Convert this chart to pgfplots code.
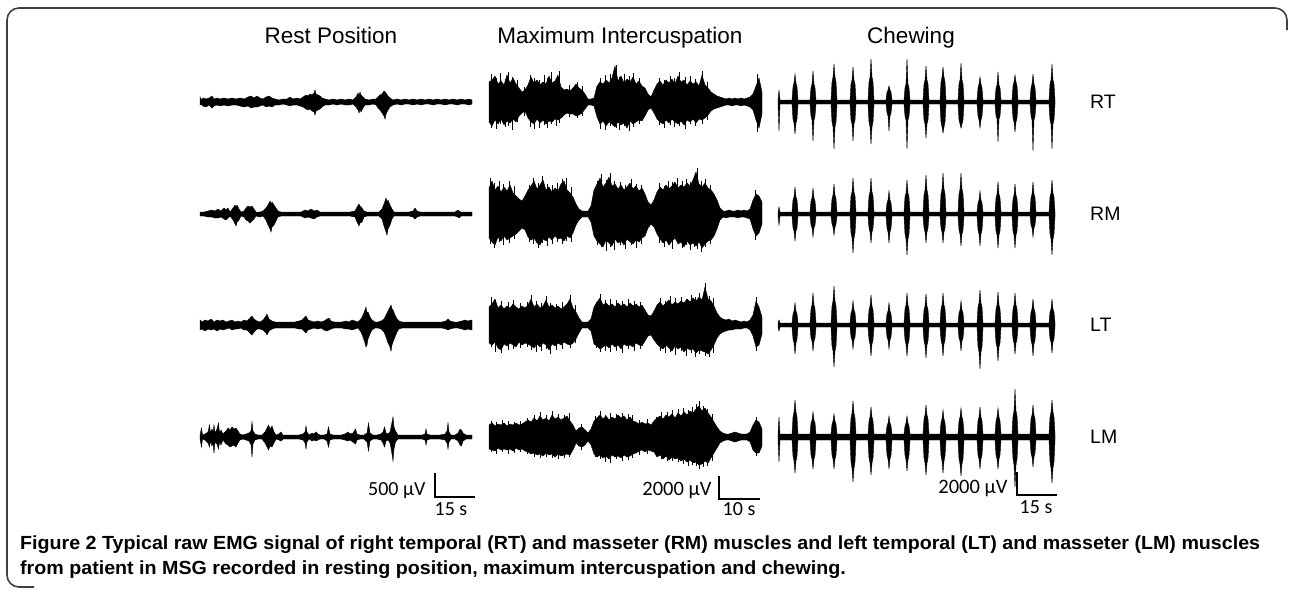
\documentclass[border=0pt]{standalone}
\usepackage{fontspec}
\usepackage{graphicx}
\usepackage{pgfplots}
\usepackage{pgfplotstable}
\pgfplotsset{compat=1.18}
\setmainfont{Liberation Sans}
\newfontfamily\barfont{Carlito}

% one small hidden axis per trace, 1 unit = 1pt in both directions
\pgfplotsset{
  emg/.style={hide axis, scale only axis, clip=false, anchor=west,
    height=100pt, xmin=0, ymin=-50, ymax=50},
  emgfill/.style={fill=black, draw=black, line width=0.4pt},
  spk/.style={ycomb, black, line width=0.7pt, mark=none},
  sbar/.style={black, line width=1.5pt},
}

% ---------------- Rest position (x hi lo) ----------------
\pgfplotstableread[row sep=\\]{
x hi lo\\
0 5 -3\\ 1 2 -2\\ 3 4 -4\\ 6 3 -5\\ 9 4 -3\\ 12 6 -6\\ 14 3 -4\\ 17 4 -3\\ 20 3 -4\\ 24 4 -3\\
28 3 -4\\ 32 4 -3\\ 36 3 -3\\ 40 4 -4\\ 44 3 -5\\ 48 5 -4\\ 51 6 -6\\ 54 4 -5\\ 57 6 -5\\ 60 4 -4\\
63 3 -3\\ 66 5 -5\\ 69 6 -4\\ 72 4 -5\\ 75 3 -3\\ 79 2 -3\\ 83 3 -2\\ 87 3 -3\\ 90 5 -4\\ 93 3 -3\\
97 4 -3\\ 100 3 -4\\ 103 5 -5\\ 106 7 -7\\ 108 6 -8\\ 110 8 -7\\ 112 7 -9\\ 114 9 -10\\ 115 12 -13\\ 116 8 -9\\
118 7 -8\\ 120 6 -7\\ 122 4 -5\\ 125 3 -3\\ 129 2 -3\\ 133 3 -2\\ 137 2 -3\\ 141 3 -2\\ 145 2 -3\\ 149 3 -3\\
153 2 -2\\ 156 5 -5\\ 158 9 -8\\ 159 6 -11\\ 160 10 -7\\ 161 7 -10\\ 163 5 -6\\ 165 3 -3\\ 169 2 -3\\ 173 3 -2\\
176 3 -3\\ 178 5 -6\\ 180 7 -8\\ 182 8 -11\\ 184 11 -14\\ 185 10 -17\\ 186 9 -12\\ 188 6 -8\\ 190 4 -5\\ 193 2 -3\\
197 3 -2\\ 201 2 -3\\ 205 3 -2\\ 209 2 -2\\ 213 3 -3\\ 217 2 -2\\ 221 3 -3\\ 225 2 -2\\ 229 3 -2\\ 233 2 -3\\
237 3 -2\\ 241 2 -2\\ 245 3 -3\\ 249 2 -2\\ 253 3 -2\\ 257 2 -3\\ 261 3 -2\\ 265 2 -2\\ 269 3 -3\\ 272 2 -2\\
}\restRT

\pgfplotstableread[row sep=\\]{
x hi lo\\
0 2 -2\\ 4 2 -2\\ 8 3 -3\\ 12 4 -3\\ 15 3 -4\\ 18 5 -4\\ 21 3 -3\\ 24 6 -5\\ 26 4 -6\\ 28 6 -4\\
30 2 -2\\ 33 6 -6\\ 35 9 -10\\ 36 7 -12\\ 37 9 -8\\ 39 5 -6\\ 41 2 -2\\ 44 3 -3\\ 46 6 -6\\ 48 8 -7\\
50 7 -9\\ 52 8 -7\\ 54 5 -5\\ 56 2 -2\\ 60 2 -3\\ 63 3 -2\\ 66 6 -6\\ 68 9 -11\\ 70 13 -15\\ 71 10 -18\\
72 12 -13\\ 74 9 -11\\ 76 6 -7\\ 78 3 -3\\ 81 2 -2\\ 85 2 -2\\ 89 2 -2\\ 93 2 -2\\ 97 2 -2\\ 101 2 -2\\
105 4 -4\\ 108 3 -3\\ 111 5 -4\\ 114 3 -5\\ 117 4 -3\\ 120 2 -2\\ 125 2 -2\\ 130 2 -2\\ 135 2 -2\\ 140 2 -2\\
145 2 -2\\ 150 2 -2\\ 155 3 -3\\ 157 7 -8\\ 159 10 -12\\ 160 8 -9\\ 162 6 -8\\ 164 3 -3\\ 167 2 -2\\ 171 2 -2\\
175 2 -2\\ 179 2 -2\\ 182 5 -5\\ 184 10 -12\\ 186 16 -18\\ 187 12 -21\\ 188 14 -15\\ 190 9 -11\\ 192 5 -5\\ 194 2 -2\\
199 2 -2\\ 204 2 -2\\ 209 2 -2\\ 213 3 -3\\ 215 6 -5\\ 217 3 -3\\ 220 2 -2\\ 225 2 -2\\ 230 2 -2\\ 235 2 -2\\
240 2 -2\\ 245 2 -2\\ 250 2 -2\\ 255 2 -2\\ 258 4 -3\\ 259 3 -4\\ 261 2 -2\\ 266 2 -2\\ 272 2 -2\\
}\restRM

\pgfplotstableread[row sep=\\]{
x hi lo\\
0 5 -5\\ 2 3 -4\\ 5 5 -6\\ 8 4 -4\\ 11 6 -5\\ 14 3 -4\\ 17 5 -6\\ 20 4 -4\\ 23 5 -5\\ 26 3 -4\\
29 4 -3\\ 32 5 -5\\ 35 3 -4\\ 38 4 -4\\ 41 3 -3\\ 44 5 -5\\ 47 4 -5\\ 50 7 -8\\ 52 9 -10\\ 54 6 -7\\
57 4 -4\\ 60 3 -4\\ 63 5 -5\\ 66 9 -8\\ 67 11 -10\\ 69 6 -6\\ 72 4 -4\\ 75 3 -3\\ 79 3 -3\\ 83 3 -3\\
87 3 -3\\ 91 3 -3\\ 95 3 -3\\ 99 4 -4\\ 102 5 -4\\ 104 7 -6\\ 106 9 -8\\ 108 5 -5\\ 111 4 -4\\ 114 3 -3\\
118 4 -4\\ 121 3 -3\\ 124 4 -5\\ 127 6 -6\\ 129 7 -5\\ 131 4 -4\\ 134 3 -3\\ 138 3 -3\\ 142 3 -3\\ 146 4 -4\\
149 3 -4\\ 152 5 -5\\ 155 4 -4\\ 158 3 -3\\ 161 6 -7\\ 163 10 -12\\ 165 15 -18\\ 166 18 -22\\ 167 12 -20\\ 168 13 -14\\
170 8 -9\\ 172 5 -5\\ 175 3 -3\\ 178 3 -3\\ 181 4 -4\\ 184 6 -7\\ 186 10 -12\\ 188 14 -18\\ 190 18 -22\\ 191 20 -26\\
192 16 -20\\ 193 15 -17\\ 195 10 -12\\ 197 6 -7\\ 199 4 -4\\ 202 3 -3\\ 206 3 -3\\ 210 3 -3\\ 214 3 -3\\ 218 3 -3\\
222 3 -3\\ 226 3 -3\\ 230 3 -3\\ 234 3 -3\\ 238 3 -3\\ 242 3 -3\\ 246 4 -4\\ 248 6 -5\\ 250 4 -4\\ 254 3 -3\\
258 3 -3\\ 262 4 -4\\ 265 5 -5\\ 268 4 -4\\ 272 5 -5\\
}\restLT

\pgfplotstableread[row sep=\\]{
x hi lo\\
0 2 -2\\ 1.5 9 -10\\ 2.5 2 -2\\ 5 3 -3\\ 8 5 -6\\ 9.5 12 -10\\ 10.5 4 -4\\ 12 8 -9\\ 13 5 -6\\ 14 12 -16\\
15 4 -5\\ 17 8 -7\\ 18.5 14 -12\\ 19.5 4 -5\\ 21 7 -8\\ 23 3 -3\\ 26 6 -7\\ 28 9 -8\\ 30 7 -10\\ 32 10 -9\\
34 8 -8\\ 36 9 -10\\ 38 6 -6\\ 40 3 -3\\ 43 2 -2\\ 46 3 -3\\ 49 4 -4\\ 51 6 -8\\ 52 15 -20\\ 53 6 -7\\
55 3 -3\\ 58 2 -2\\ 62 2 -2\\ 65 5 -6\\ 67 9 -10\\ 68.5 12 -13\\ 70 8 -9\\ 72 11 -10\\ 74 5 -6\\ 76 2 -2\\
79 3 -3\\ 81 5 -4\\ 83 2 -2\\ 87 2 -2\\ 91 2 -2\\ 95 2 -2\\ 99 2 -2\\ 103 3 -3\\ 105 5 -6\\ 106 11 -12\\
107 5 -5\\ 109 2 -2\\ 112 4 -4\\ 114 3 -3\\ 116 5 -4\\ 118 3 -3\\ 120 2 -2\\ 124 2 -2\\ 127 3 -4\\ 128.5 10 -10\\
130 3 -3\\ 133 2 -2\\ 137 2 -2\\ 141 2 -2\\ 145 3 -3\\ 148 5 -4\\ 150 3 -3\\ 153 4 -5\\ 155.5 8 -7\\ 157 3 -3\\
160 2 -2\\ 164 2 -2\\ 167 4 -5\\ 168.5 14 -14\\ 170 4 -4\\ 173 2 -2\\ 177 2 -2\\ 181 3 -3\\ 183 5 -6\\ 184.5 10 -10\\
186 4 -4\\ 188 3 -3\\ 190 5 -6\\ 191.5 12 -14\\ 193 20 -24\\ 194 10 -12\\ 195.5 6 -5\\ 198 2 -2\\ 203 2 -2\\ 208 2 -2\\
213 2 -2\\ 218 2 -2\\ 222 2 -2\\ 225 3 -3\\ 226 8 -8\\ 227 3 -3\\ 230 2 -2\\ 235 2 -2\\ 240 2 -2\\ 245 3 -3\\
247 6 -6\\ 248 14 -12\\ 249 5 -5\\ 251 2 -2\\ 255 2 -2\\ 258 4 -4\\ 260 8 -8\\ 261.5 7 -9\\ 263 4 -4\\ 266 2 -2\\
272 2 -2\\
}\restLM

% ---------------- Maximum intercuspation ----------------
% envelopes: hi lo, one row every 3 px
\pgfplotstableread[row sep=\\]{
hi lo\\
20 -20\\ 22 -24\\ 26 -18\\ 18 -22\\ 21 -17\\ 17 -23\\ 27 -19\\ 19 -21\\ 24 -17\\ 18 -20\\
14 -14\\ 10 -11\\ 12 -9\\ 17 -16\\ 25 -20\\ 19 -22\\ 22 -17\\ 17 -21\\ 20 -18\\ 18 -22\\
26 -19\\ 19 -20\\ 21 -17\\ 27 -18\\ 15 -16\\ 12 -13\\ 13 -11\\ 11 -12\\ 14 -12\\ 18 -14\\
14 -13\\ 12 -11\\ 8 -7\\ 3 -3\\ 3 -3\\ 4 -4\\ 16 -15\\ 20 -22\\ 18 -19\\ 22 -24\\
19 -20\\ 24 -22\\ 36 -25\\ 21 -20\\ 26 -23\\ 19 -21\\ 23 -26\\ 20 -19\\ 25 -22\\ 18 -20\\
21 -18\\ 16 -19\\ 14 -14\\ 8 -8\\ 5 -6\\ 12 -11\\ 18 -17\\ 21 -20\\ 17 -22\\ 22 -18\\
19 -21\\ 23 -17\\ 18 -20\\ 26 -22\\ 20 -19\\ 22 -23\\ 17 -18\\ 21 -20\\ 18 -17\\ 20 -21\\
16 -17\\ 27 -18\\ 17 -16\\ 14 -13\\ 10 -9\\ 8 -7\\ 6 -6\\ 5 -5\\ 4 -4\\ 3 -3\\
4 -3\\ 3 -4\\ 4 -3\\ 3 -3\\ 4 -4\\ 3 -3\\ 4 -4\\ 5 -5\\ 8 -8\\ 16 -18\\
24 -26\\ 10 -12\\
}\maxRT

\pgfplotstableread[row sep=\\]{
hi lo\\
26 -24\\ 33 -28\\ 24 -31\\ 28 -23\\ 22 -27\\ 27 -22\\ 23 -26\\ 29 -24\\ 21 -22\\ 18 -20\\
15 -17\\ 13 -14\\ 18 -16\\ 24 -23\\ 28 -26\\ 33 -24\\ 25 -29\\ 29 -31\\ 34 -25\\ 24 -27\\
27 -23\\ 22 -26\\ 26 -22\\ 23 -25\\ 30 -24\\ 33 -27\\ 24 -22\\ 21 -24\\ 17 -19\\ 10 -11\\
5 -6\\ 3 -3\\ 3 -3\\ 3 -3\\ 8 -8\\ 24 -22\\ 30 -27\\ 36 -30\\ 27 -33\\ 31 -26\\
37 -29\\ 28 -32\\ 30 -25\\ 25 -29\\ 29 -27\\ 24 -31\\ 27 -25\\ 31 -28\\ 25 -30\\ 28 -26\\
23 -28\\ 26 -24\\ 20 -22\\ 12 -14\\ 9 -10\\ 14 -13\\ 22 -20\\ 27 -25\\ 24 -29\\ 29 -26\\
25 -31\\ 28 -27\\ 32 -24\\ 26 -30\\ 29 -28\\ 27 -33\\ 31 -27\\ 28 -31\\ 34 -29\\ 42 -32\\
30 -28\\ 27 -34\\ 31 -30\\ 26 -27\\ 24 -26\\ 20 -22\\ 14 -15\\ 6 -6\\ 3 -3\\ 3 -4\\
4 -3\\ 3 -3\\ 3 -3\\ 4 -4\\ 3 -3\\ 4 -3\\ 3 -4\\ 5 -5\\ 14 -15\\ 20 -22\\
18 -19\\ 12 -10\\
}\maxRM

\pgfplotstableread[row sep=\\]{
hi lo\\
18 -18\\ 21 -20\\ 26 -17\\ 17 -23\\ 20 -25\\ 16 -19\\ 19 -21\\ 17 -18\\ 21 -20\\ 18 -22\\
16 -17\\ 19 -20\\ 17 -18\\ 20 -19\\ 26 -21\\ 18 -23\\ 21 -19\\ 17 -22\\ 19 -18\\ 25 -20\\
18 -25\\ 20 -19\\ 17 -21\\ 19 -18\\ 16 -20\\ 18 -17\\ 21 -19\\ 26 -20\\ 17 -18\\ 13 -14\\
7 -8\\ 3 -3\\ 3 -3\\ 3 -3\\ 6 -6\\ 18 -19\\ 23 -21\\ 27 -24\\ 20 -22\\ 22 -20\\
19 -23\\ 21 -19\\ 18 -22\\ 22 -20\\ 19 -24\\ 21 -19\\ 18 -21\\ 22 -20\\ 19 -22\\ 21 -18\\
18 -20\\ 20 -21\\ 15 -16\\ 10 -11\\ 9 -10\\ 14 -15\\ 20 -19\\ 23 -22\\ 19 -24\\ 22 -20\\
25 -23\\ 20 -26\\ 23 -21\\ 21 -24\\ 24 -22\\ 22 -27\\ 26 -23\\ 23 -25\\ 27 -24\\ 24 -28\\
28 -25\\ 25 -26\\ 38 -27\\ 26 -29\\ 24 -25\\ 19 -20\\ 12 -13\\ 8 -9\\ 6 -7\\ 5 -6\\
6 -5\\ 4 -5\\ 5 -4\\ 4 -4\\ 3 -4\\ 4 -3\\ 3 -3\\ 5 -5\\ 10 -11\\ 24 -22\\
18 -20\\ 8 -9\\
}\maxLT

\pgfplotstableread[row sep=\\]{
hi lo\\
12 -12\\ 14 -13\\ 11 -14\\ 13 -11\\ 12 -13\\ 14 -12\\ 11 -13\\ 13 -12\\ 12 -14\\ 14 -11\\
12 -13\\ 13 -12\\ 15 -14\\ 17 -15\\ 15 -17\\ 19 -16\\ 16 -18\\ 21 -17\\ 17 -19\\ 19 -16\\
16 -18\\ 22 -17\\ 18 -20\\ 20 -17\\ 17 -19\\ 19 -18\\ 21 -17\\ 16 -18\\ 12 -13\\ 6 -6\\
9 -9\\ 10 -10\\ 7 -8\\ 4 -4\\ 8 -8\\ 16 -17\\ 19 -20\\ 22 -18\\ 18 -21\\ 21 -19\\
17 -22\\ 20 -18\\ 18 -20\\ 22 -19\\ 19 -21\\ 21 -18\\ 17 -20\\ 20 -19\\ 16 -17\\ 15 -16\\
13 -14\\ 15 -13\\ 13 -15\\ 14 -13\\ 12 -14\\ 16 -15\\ 19 -20\\ 21 -18\\ 18 -22\\ 22 -19\\
20 -23\\ 23 -20\\ 19 -22\\ 24 -21\\ 21 -24\\ 25 -22\\ 22 -25\\ 26 -23\\ 24 -26\\ 28 -25\\
31 -28\\ 26 -27\\ 29 -24\\ 24 -26\\ 20 -21\\ 15 -16\\ 10 -11\\ 6 -6\\ 4 -4\\ 3 -3\\
3 -3\\ 4 -4\\ 5 -5\\ 4 -4\\ 3 -3\\ 3 -3\\ 3 -3\\ 5 -5\\ 12 -13\\ 17 -16\\
15 -16\\ 8 -9\\
}\maxLM

% single spikes sticking out of the envelopes: x hi lo
\pgfplotstableread[row sep=\\]{
x hi lo\\
2 28 -26\\ 7 24 -27\\ 11 29 -22\\ 16 23 -25\\ 19 30 -24\\ 23 25 -28\\ 28 22 -20\\ 35 15 -14\\ 41 27 -25\\ 45 24 -27\\
50 22 -26\\ 55 27 -23\\ 58 24 -26\\ 62 30 -22\\ 67 23 -24\\ 70 31 -21\\ 80 17 -15\\ 88 20 -16\\ 93 16 -14\\ 111 24 -27\\
116 27 -28\\ 121 28 -24\\ 127 37 -26\\ 130 25 -28\\ 135 28 -24\\ 140 26 -29\\ 144 29 -25\\ 150 24 -22\\ 170 24 -23\\ 175 22 -26\\
181 26 -23\\ 185 24 -25\\ 190 30 -24\\ 196 25 -27\\ 201 26 -22\\ 206 23 -24\\ 213 31 -22\\ 218 20 -18\\ 268 28 -30\\
}\maxRTs

\pgfplotstableread[row sep=\\]{
x hi lo\\
1 36 -30\\ 5 31 -34\\ 10 33 -28\\ 14 30 -31\\ 20 33 -29\\ 25 28 -25\\ 40 29 -28\\ 44 36 -30\\ 49 31 -34\\ 53 38 -29\\
58 30 -32\\ 63 29 -30\\ 68 31 -28\\ 73 35 -30\\ 77 36 -27\\ 82 27 -28\\ 108 33 -31\\ 112 40 -33\\ 117 34 -37\\ 121 41 -33\\
125 33 -36\\ 131 32 -31\\ 136 29 -35\\ 142 35 -31\\ 147 30 -34\\ 152 29 -30\\ 170 31 -29\\ 175 28 -33\\ 179 33 -30\\ 183 32 -35\\
188 36 -28\\ 193 33 -34\\ 197 35 -31\\ 201 32 -36\\ 205 38 -33\\ 208 46 -35\\ 212 33 -38\\ 216 35 -33\\ 221 29 -30\\ 266 24 -26\\
}\maxRMs

\pgfplotstableread[row sep=\\]{
x hi lo\\
2 28 -22\\ 6 25 -27\\ 12 24 -28\\ 19 23 -25\\ 24 25 -24\\ 31 22 -23\\ 38 23 -22\\ 42 30 -25\\ 47 24 -27\\ 52 22 -26\\
57 29 -24\\ 61 22 -29\\ 67 21 -25\\ 73 23 -24\\ 81 30 -23\\ 86 20 -18\\ 107 23 -23\\ 111 31 -27\\ 116 25 -26\\ 121 26 -27\\
127 25 -26\\ 133 24 -28\\ 139 26 -24\\ 145 24 -26\\ 151 23 -24\\ 171 27 -26\\ 176 24 -28\\ 181 29 -27\\ 186 27 -30\\ 192 28 -26\\
197 26 -31\\ 202 30 -28\\ 206 28 -32\\ 210 32 -29\\ 216 42 -31\\ 220 29 -32\\ 224 27 -28\\ 267 28 -26\\
}\maxLTs

\pgfplotstableread[row sep=\\]{
x hi lo\\
2 16 -15\\ 7 15 -17\\ 13 17 -15\\ 19 16 -17\\ 25 15 -16\\ 31 16 -15\\ 38 19 -17\\ 45 22 -20\\ 51 25 -21\\ 57 22 -20\\
63 26 -21\\ 69 23 -22\\ 75 22 -21\\ 80 24 -20\\ 92 13 -13\\ 106 21 -20\\ 111 26 -22\\ 116 22 -25\\ 121 24 -26\\ 127 23 -22\\
133 24 -24\\ 139 23 -23\\ 143 22 -21\\ 150 17 -18\\ 158 18 -17\\ 167 20 -19\\ 172 25 -22\\ 178 25 -24\\ 183 27 -24\\ 189 28 -25\\
194 29 -27\\ 199 27 -29\\ 203 30 -28\\ 207 33 -29\\ 210 36 -32\\ 214 31 -30\\ 218 28 -29\\ 223 23 -24\\ 267 20 -19\\
}\maxLMs

% ---------------- Chewing (x hi lo, 15 bursts) ----------------
\pgfplotstableread[row sep=\\]{
x hi lo\\
0 2 -2\\ 1 12 -29\\ 2 2 -2\\
14 2 -2\\ 15 15 -17\\ 16 19 -21\\ 17 28 -32\\ 18 19 -21\\ 19 15 -17\\ 20 2 -2\\
32 2 -2\\ 33 14 -14\\ 34 18 -18\\ 35 31 -39\\ 36 18 -18\\ 37 14 -14\\ 38 2 -2\\
53 2 -2\\ 54 20 -20\\ 55 25 -25\\ 56 38 -47\\ 57 25 -25\\ 58 20 -20\\ 59 2 -2\\
72 2 -2\\ 73 18 -18\\ 74 22 -22\\ 75 35 -39\\ 76 22 -22\\ 77 18 -18\\ 78 2 -2\\
90 2 -2\\ 91 20 -20\\ 92 25 -25\\ 93 43 -42\\ 94 25 -25\\ 95 20 -20\\ 96 2 -2\\
108 2 -2\\ 109 10 -11\\ 110 12 -14\\ 111 16 -29\\ 112 12 -14\\ 113 10 -11\\ 114 2 -2\\
126 2 -2\\ 127 14 -14\\ 128 18 -18\\ 129 43 -47\\ 130 18 -18\\ 131 14 -14\\ 132 2 -2\\
145 2 -2\\ 146 18 -18\\ 147 22 -22\\ 148 36 -36\\ 149 22 -22\\ 150 18 -18\\ 151 2 -2\\
162 2 -2\\ 163 20 -20\\ 164 25 -25\\ 165 35 -31\\ 166 25 -25\\ 167 20 -20\\ 168 2 -2\\
180 2 -2\\ 181 18 -18\\ 182 22 -22\\ 183 39 -26\\ 184 22 -22\\ 185 18 -18\\ 186 2 -2\\
199 2 -2\\ 200 14 -14\\ 201 18 -18\\ 202 25 -26\\ 203 18 -18\\ 204 14 -14\\ 205 2 -2\\
217 2 -2\\ 218 14 -14\\ 219 17 -17\\ 220 30 -40\\ 221 17 -17\\ 222 14 -14\\ 223 2 -2\\
234 2 -2\\ 235 16 -16\\ 236 20 -20\\ 237 27 -30\\ 238 20 -20\\ 239 16 -16\\ 240 2 -2\\
252 2 -2\\ 253 14 -14\\ 254 18 -18\\ 255 28 -49\\ 256 18 -18\\ 257 14 -14\\ 258 2 -2\\
271 2 -2\\ 272 18 -18\\ 273 22 -22\\ 274 38 -47\\ 275 22 -22\\ 276 18 -18\\ 277 2 -2\\
}\chewRT

\pgfplotstableread[row sep=\\]{
x hi lo\\
0 2 -2\\ 1 7 -11\\ 2 2 -2\\
14 2 -2\\ 15 14 -14\\ 16 17 -17\\ 17 27 -27\\ 18 17 -17\\ 19 14 -14\\ 20 2 -2\\
32 2 -2\\ 33 13 -11\\ 34 16 -14\\ 35 26 -23\\ 36 16 -14\\ 37 13 -11\\ 38 2 -2\\
53 2 -2\\ 54 15 -10\\ 55 19 -13\\ 56 30 -21\\ 57 19 -13\\ 58 15 -10\\ 59 2 -2\\
72 2 -2\\ 73 18 -19\\ 74 22 -24\\ 75 36 -39\\ 76 22 -24\\ 77 18 -19\\ 78 2 -2\\
90 2 -2\\ 91 18 -14\\ 92 22 -18\\ 93 36 -29\\ 94 22 -18\\ 95 18 -14\\ 96 2 -2\\
108 2 -2\\ 109 11 -14\\ 110 14 -18\\ 111 23 -29\\ 112 14 -18\\ 113 11 -14\\ 114 2 -2\\
126 2 -2\\ 127 17 -20\\ 128 21 -25\\ 129 34 -41\\ 130 21 -25\\ 131 17 -20\\ 132 2 -2\\
145 2 -2\\ 146 19 -14\\ 147 24 -18\\ 148 39 -29\\ 149 24 -18\\ 150 19 -14\\ 151 2 -2\\
162 2 -2\\ 163 20 -14\\ 164 25 -18\\ 165 41 -29\\ 166 25 -18\\ 167 20 -14\\ 168 2 -2\\
180 2 -2\\ 181 20 -16\\ 182 25 -20\\ 183 41 -32\\ 184 25 -20\\ 185 20 -16\\ 186 2 -2\\
199 2 -2\\ 200 11 -16\\ 201 14 -20\\ 202 23 -32\\ 203 14 -20\\ 204 11 -16\\ 205 2 -2\\
217 2 -2\\ 218 16 -17\\ 219 20 -21\\ 220 32 -34\\ 221 20 -21\\ 222 16 -17\\ 223 2 -2\\
234 2 -2\\ 235 15 -17\\ 236 19 -21\\ 237 30 -34\\ 238 19 -21\\ 239 15 -17\\ 240 2 -2\\
252 2 -2\\ 253 16 -11\\ 254 20 -14\\ 255 32 -23\\ 256 20 -14\\ 257 16 -11\\ 258 2 -2\\
271 2 -2\\ 272 17 -20\\ 273 21 -25\\ 274 34 -41\\ 275 21 -25\\ 276 17 -20\\ 277 2 -2\\
}\chewRM

\pgfplotstableread[row sep=\\]{
x hi lo\\
0 2 -2\\ 1 5 -6\\ 2 2 -2\\
14 2 -2\\ 15 11 -14\\ 16 14 -18\\ 17 22 -29\\ 18 14 -18\\ 19 11 -14\\ 20 2 -2\\
32 2 -2\\ 33 16 -13\\ 34 20 -16\\ 35 32 -26\\ 36 20 -16\\ 37 16 -13\\ 38 2 -2\\
53 2 -2\\ 54 19 -21\\ 55 24 -26\\ 56 39 -42\\ 57 24 -26\\ 58 19 -21\\ 59 2 -2\\
72 2 -2\\ 73 12 -12\\ 74 15 -15\\ 75 24 -24\\ 76 15 -15\\ 77 12 -12\\ 78 2 -2\\
90 2 -2\\ 91 15 -15\\ 92 19 -19\\ 93 30 -31\\ 94 19 -19\\ 95 15 -15\\ 96 2 -2\\
108 2 -2\\ 109 11 -12\\ 110 14 -15\\ 111 22 -24\\ 112 14 -15\\ 113 11 -12\\ 114 2 -2\\
126 2 -2\\ 127 16 -15\\ 128 20 -19\\ 129 32 -31\\ 130 20 -19\\ 131 16 -15\\ 132 2 -2\\
145 2 -2\\ 146 15 -16\\ 147 19 -20\\ 148 31 -33\\ 149 19 -20\\ 150 15 -16\\ 151 2 -2\\
162 2 -2\\ 163 16 -15\\ 164 20 -19\\ 165 32 -31\\ 166 20 -19\\ 167 16 -15\\ 168 2 -2\\
180 2 -2\\ 181 12 -13\\ 182 15 -16\\ 183 24 -26\\ 184 15 -16\\ 185 12 -13\\ 186 2 -2\\
199 2 -2\\ 200 18 -22\\ 201 22 -27\\ 202 35 -44\\ 203 22 -27\\ 204 18 -22\\ 205 2 -2\\
217 2 -2\\ 218 16 -18\\ 219 20 -22\\ 220 33 -36\\ 221 20 -22\\ 222 16 -18\\ 223 2 -2\\
234 2 -2\\ 235 16 -14\\ 236 20 -18\\ 237 32 -29\\ 238 20 -18\\ 239 16 -14\\ 240 2 -2\\
252 2 -2\\ 253 13 -15\\ 254 16 -19\\ 255 26 -31\\ 256 16 -19\\ 257 13 -15\\ 258 2 -2\\
271 2 -2\\ 272 13 -14\\ 273 16 -17\\ 274 26 -28\\ 275 16 -17\\ 276 13 -14\\ 277 2 -2\\
}\chewLT

\pgfplotstableread[row sep=\\]{
x hi lo\\
0 3 -3\\ 1 20 -25\\ 2 3 -3\\
14 3 -3\\ 15 20 -19\\ 16 25 -24\\ 17 37 -36\\ 18 25 -24\\ 19 20 -19\\ 20 3 -3\\
32 3 -3\\ 33 14 -18\\ 34 17 -22\\ 35 25 -32\\ 36 17 -22\\ 37 14 -18\\ 38 3 -3\\
53 3 -3\\ 54 13 -18\\ 55 16 -22\\ 56 23 -32\\ 57 16 -22\\ 58 13 -18\\ 59 3 -3\\
72 3 -3\\ 73 19 -25\\ 74 24 -31\\ 75 36 -45\\ 76 24 -31\\ 77 19 -25\\ 78 3 -3\\
90 3 -3\\ 91 16 -21\\ 92 20 -26\\ 93 30 -38\\ 94 20 -26\\ 95 16 -21\\ 96 3 -3\\
108 3 -3\\ 109 11 -18\\ 110 14 -22\\ 111 21 -32\\ 112 14 -22\\ 113 11 -18\\ 114 3 -3\\
126 3 -3\\ 127 11 -18\\ 128 14 -23\\ 129 21 -34\\ 130 14 -23\\ 131 11 -18\\ 132 3 -3\\
145 3 -3\\ 146 18 -21\\ 147 22 -26\\ 148 32 -38\\ 149 22 -26\\ 150 18 -21\\ 151 3 -3\\
162 3 -3\\ 163 14 -19\\ 164 18 -24\\ 165 27 -36\\ 166 18 -24\\ 167 14 -19\\ 168 3 -3\\
180 3 -3\\ 181 16 -22\\ 182 20 -27\\ 183 29 -39\\ 184 20 -27\\ 185 16 -22\\ 186 3 -3\\
199 3 -3\\ 200 16 -18\\ 201 20 -22\\ 202 30 -32\\ 203 20 -22\\ 204 16 -18\\ 205 3 -3\\
217 3 -3\\ 218 16 -18\\ 219 20 -22\\ 220 29 -32\\ 221 20 -22\\ 222 16 -18\\ 223 3 -3\\
234 3 -3\\ 235 21 -22\\ 236 26 -28\\ 237 48 -50\\ 238 26 -28\\ 239 21 -22\\ 240 3 -3\\
252 3 -3\\ 253 18 -16\\ 254 22 -20\\ 255 32 -30\\ 256 22 -20\\ 257 18 -16\\ 258 3 -3\\
271 3 -3\\ 272 20 -25\\ 273 25 -31\\ 274 37 -46\\ 275 25 -31\\ 276 20 -25\\ 277 3 -3\\
}\chewLM

% #1 left edge, #2 baseline (px from top), #3 width, #4 table, #5 x key, #6 extras
\newcommand{\emgtrace}[6]{%
  \begin{axis}[emg, at={(#1pt,-#2pt)}, width=#3pt, xmax=#3]
    \addplot[emgfill] table[#5, y=hi] {#4} \closedcycle;
    \addplot[emgfill] table[#5, y=lo] {#4} \closedcycle;
    \addplot[black, line width=1.2pt] coordinates {(0,0) (#3,0)};
    #6
  \end{axis}}
\newcommand{\spikes}[1]{%
  \addplot[spk] table[x=x, y=hi] {#1};
  \addplot[spk] table[x=x, y=lo] {#1};}

\newsavebox\capone
\newsavebox\captwo

\begin{document}%
\sbox\capone{\fontsize{19}{23}\selectfont\bfseries Figure 2 Typical raw EMG signal of right temporal (RT) and masseter (RM) muscles and left temporal (LT) and masseter (LM) muscles}%
\sbox\captwo{\fontsize{19}{23}\selectfont\bfseries from patient in MSG recorded in resting position, maximum intercuspation and chewing.}%
\pgfmathsetmacro\capscale{1240/\wd\capone}%
\begin{tikzpicture}
\path[use as bounding box] (0,0) rectangle (1290pt,-589pt);

% frame
\draw[black!75, line width=1.6pt, rounded corners=12pt]
  (34pt,-587pt) -- (7pt,-587pt) -- (7pt,-8pt) -- (1287pt,-8pt) -- (1287pt,-30pt);

% column titles
\begin{scope}[every node/.style={anchor=base, inner sep=0pt, font=\fontsize{22.5}{27}\selectfont}]
  \node at (331pt,-43pt) {Rest Position};
  \node at (620pt,-43pt) {Maximum Intercuspation};
  \node at (911pt,-43pt) {Chewing};
\end{scope}

% row labels
\begin{scope}[every node/.style={anchor=west, inner sep=0pt, font=\fontsize{19.5}{23}\selectfont}]
  \node at (1090pt,-102pt) {RT};
  \node at (1090pt,-214pt) {RM};
  \node at (1090pt,-325pt) {LT};
  \node at (1090pt,-437pt) {LM};
\end{scope}

% Rest position
\emgtrace{200}{102}{272}{\restRT}{x=x}{}
\emgtrace{200}{214}{272}{\restRM}{x=x}{}
\emgtrace{200}{325}{272}{\restLT}{x=x}{}
\emgtrace{200}{437}{272}{\restLM}{x=x}{%
  \addplot[sbar] coordinates {(235,-36) (235,-60) (275,-60)};
  \node[anchor=base east, font=\barfont\fontsize{20}{24}\selectfont] at (axis cs:229,-58) {500 μV};
  \node[anchor=base, font=\barfont\fontsize{20}{24}\selectfont] at (axis cs:251,-78) {15 s};}

% Maximum intercuspation
\emgtrace{489}{102}{273}{\maxRT}{x expr=3*\coordindex}{\spikes{\maxRTs}}
\emgtrace{489}{214}{273}{\maxRM}{x expr=3*\coordindex}{\spikes{\maxRMs}}
\emgtrace{489}{325}{273}{\maxLT}{x expr=3*\coordindex}{\spikes{\maxLTs}}
\emgtrace{489}{437}{273}{\maxLM}{x expr=3*\coordindex}{%
  \spikes{\maxLMs}
  \addplot[sbar] coordinates {(230,-39) (230,-62) (271,-62)};
  \node[anchor=base east, font=\barfont\fontsize{20.5}{24}\selectfont] at (axis cs:226,-58) {2000 μV};
  \node[anchor=base, font=\barfont\fontsize{20}{24}\selectfont] at (axis cs:250,-78) {10 s};}

% Chewing
\emgtrace{778}{102}{277}{\chewRT}{x=x}{}
\emgtrace{778}{214}{277}{\chewRM}{x=x}{}
\emgtrace{778}{325}{277}{\chewLT}{x=x}{}
\emgtrace{778}{437}{277}{\chewLM}{x=x}{%
  \addplot[sbar] coordinates {(239,-35) (239,-58) (279,-58)};
  \node[anchor=base east, font=\barfont\fontsize{20.5}{24}\selectfont] at (axis cs:233,-56) {2000 μV};
  \node[anchor=base, font=\barfont\fontsize{20}{24}\selectfont] at (axis cs:258,-76) {15 s};}

% caption, squeezed to the reference line width
\node[anchor=base west, inner sep=0pt] at (20pt,-549pt) {\scalebox{\capscale}[1]{\usebox\capone}};
\node[anchor=base west, inner sep=0pt] at (20pt,-574pt) {\scalebox{\capscale}[1]{\usebox\captwo}};
\end{tikzpicture}%
\end{document}
